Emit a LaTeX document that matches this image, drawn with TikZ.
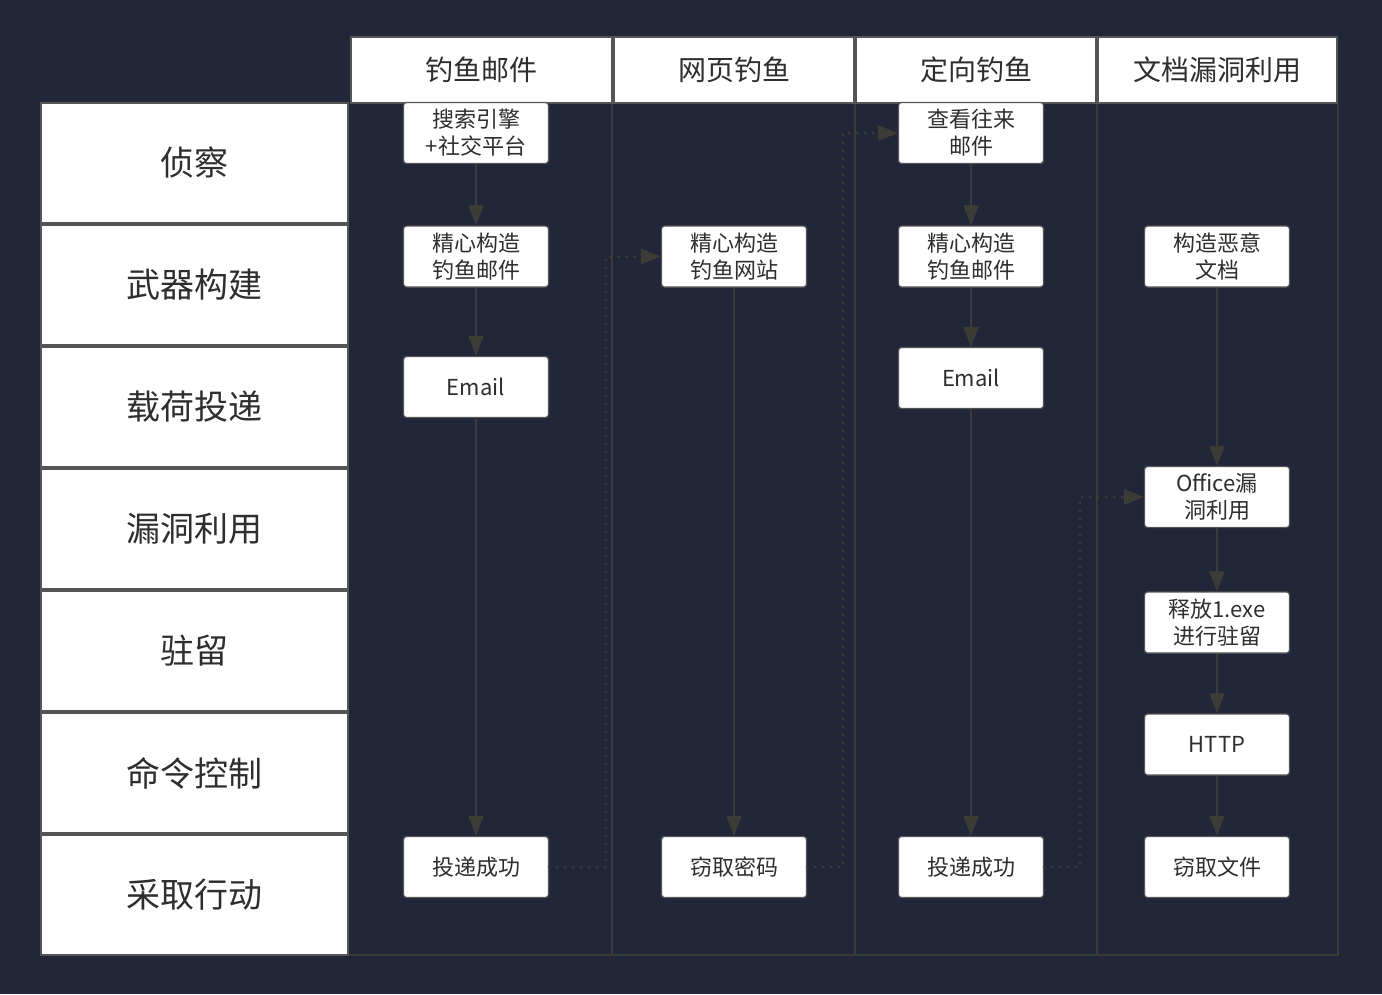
\documentclass[tikz,border=0pt]{standalone}
\usepackage{fontspec}
\setmainfont{Noto Sans CJK SC}
\usetikzlibrary{arrows.meta}
\definecolor{bg}{HTML}{212638}
\definecolor{ln}{HTML}{3C3C37}
\definecolor{tx}{HTML}{2E2E2E}
\definecolor{bd}{HTML}{555555}
\tikzset{
  rowbox/.style={draw=bd,line width=1.2pt,fill=white,minimum width=307pt,minimum height=120pt,inner sep=0pt,text=tx,font=\fontsize{34}{36}\selectfont},
  headbox/.style={draw=bd,line width=1.2pt,fill=white,minimum height=66pt,inner sep=0pt,text=tx,font=\fontsize{28}{30}\selectfont},
  stepbox/.style={draw=bd,line width=1.2pt,fill=white,rounded corners=3pt,minimum width=145pt,minimum height=61pt,inner sep=0pt,align=center,text=tx,font=\fontsize{22}{27}\selectfont},
  lane/.style={draw=ln,line width=2pt},
  flow/.style={draw=ln,line width=2pt,-{Triangle[width=15pt,length=20pt]}},
  dotflow/.style={draw=ln,line width=2.8pt,line cap=round,dash pattern=on 0pt off 8pt,-{Triangle[width=15pt,length=20pt]}}
}
\begin{document}
\begin{tikzpicture}[x=1pt,y=-1pt]
\fill[bg] (0,0) rectangle (1382,994);
\useasboundingbox (0,0) rectangle (1382,994);
% lanes frame
\draw[lane] (612,103) -- (612,955);
\draw[lane] (855,103) -- (855,955);
\draw[lane] (1097,103) -- (1097,955);
\draw[lane] (1338,103) -- (1338,955);
\draw[lane] (348,955) -- (1338,955);
% headers
\node[headbox,minimum width=261pt] (h1) at (481.5,70) {钓鱼邮件};
\node[headbox,minimum width=240pt] (h2) at (734,70) {网页钓鱼};
\node[headbox,minimum width=240pt] (h3) at (976,70) {定向钓鱼};
\node[headbox,minimum width=239pt] (h4) at (1217.5,70) {文档漏洞利用};
% rows
\node[rowbox] (r1) at (194.5,163) {侦察};
\node[rowbox] (r2) at (194.5,285) {武器构建};
\node[rowbox] (r3) at (194.5,407) {载荷投递};
\node[rowbox] (r4) at (194.5,529) {漏洞利用};
\node[rowbox] (r5) at (194.5,651) {驻留};
\node[rowbox] (r6) at (194.5,773) {命令控制};
\node[rowbox] (r7) at (194.5,895) {采取行动};
% column 1
\node[stepbox] (a1) at (476,133) {搜索引擎\\+社交平台};
\node[stepbox] (a2) at (476,256.5) {精心构造\\钓鱼邮件};
\node[stepbox] (a3) at (476,387) {Email};
\node[stepbox] (a4) at (476,867) {投递成功};
% column 2
\node[stepbox] (b1) at (734,256.5) {精心构造\\钓鱼网站};
\node[stepbox] (b2) at (734,867) {窃取密码};
% column 3
\node[stepbox] (c1) at (971,133) {查看往来\\邮件};
\node[stepbox] (c2) at (971,256.5) {精心构造\\钓鱼邮件};
\node[stepbox] (c3) at (971,378) {Email};
\node[stepbox] (c4) at (971,867) {投递成功};
% column 4
\node[stepbox] (d1) at (1217,256.5) {构造恶意\\文档};
\node[stepbox] (d2) at (1217,497) {Office漏\\洞利用};
\node[stepbox] (d3) at (1217,622.5) {释放1.exe\\进行驻留};
\node[stepbox] (d4) at (1217,744.5) {HTTP};
\node[stepbox] (d5) at (1217,867) {窃取文件};
% solid flows
\draw[flow] (a1) -- (a2);
\draw[flow] (a2) -- (a3);
\draw[flow] (a3) -- (a4);
\draw[flow] (b1) -- (b2);
\draw[flow] (c1) -- (c2);
\draw[flow] (c2) -- (c3);
\draw[flow] (c3) -- (c4);
\draw[flow] (d1) -- (d2);
\draw[flow] (d2) -- (d3);
\draw[flow] (d3) -- (d4);
\draw[flow] (d4) -- (d5);
% dotted cross-lane flows
\coordinate (k1) at (606,0);
\coordinate (k2) at (843,0);
\coordinate (k3) at (1080,0);
\draw[dotflow] (a4.east) -- (a4.east -| k1) |- (b1.west);
\draw[dotflow] (b2.east) -- (b2.east -| k2) |- (c1.west);
\draw[dotflow] (c4.east) -- (c4.east -| k3) |- (d2.west);
\end{tikzpicture}
\end{document}
